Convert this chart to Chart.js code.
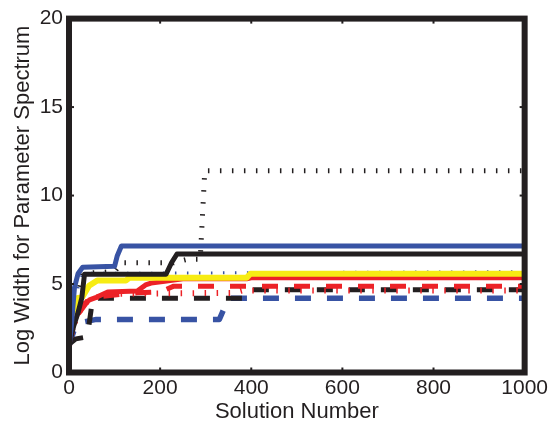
<!DOCTYPE html>
<html>
<head>
<meta charset="utf-8">
<script src="https://cdn.jsdelivr.net/npm/chart.js@4/dist/chart.umd.min.js"></script>
<style>
html,body{margin:0;padding:0;background:#fff;}
#wrap{width:551px;height:425px;}
</style>
</head>
<body>
<div id="wrap"><canvas id="c" width="551" height="425"></canvas></div>
<script>
// Axis ticks
const xTicks = [0, 200, 400, 600, 800, 1000];
const yTicks = [0, 5, 10, 15, 20];

// Series: solid
const blueSolidX  = [0, 5, 12, 20, 30, 100, 106, 115, 1000];
const blueSolidY  = [1.4, 2.6, 4.8, 5.6, 5.95, 6.0, 6.6, 7.15, 7.15];
const blackSolidX = [0, 10, 20, 28, 34, 213, 225, 237, 1000];
const blackSolidY = [1.5, 2.6, 3.4, 4.2, 5.55, 5.55, 6.2, 6.7, 6.7];
const redSolidX   = [0, 4, 15, 28, 45, 60, 85, 150, 168, 180, 210, 250, 390, 400, 1000];
const redSolidY   = [1.6, 2.2, 3.1, 3.8, 4.1, 4.25, 4.55, 4.6, 4.95, 5.05, 5.15, 5.3, 5.3, 5.35, 5.35];
const yellowX     = [0, 7, 18, 29, 44, 62, 125, 132, 390, 398, 1000];
const yellowY     = [3.1, 3.25, 4.2, 4.25, 4.9, 5.2, 5.2, 5.35, 5.35, 5.58, 5.58];

// Series: dashed
const blueDashX  = [0, 10, 20, 60, 330, 350, 1000];
const blueDashY  = [1.5, 2.3, 2.8, 3.0, 3.0, 4.2, 4.2];
const blackDashX = [0, 15, 38, 44, 52, 385, 395, 1000];
const blackDashY = [1.6, 1.9, 2.0, 2.7, 4.2, 4.2, 4.68, 4.68];
const redDashX   = [0, 10, 20, 40, 70, 150, 200, 230, 1000];
const redDashY   = [1.6, 2.6, 3.3, 4.0, 4.3, 4.5, 4.55, 4.88, 4.88];

// Series: dotted
const blueDotX  = [0, 10, 20, 30, 1000];
const blueDotY  = [1.4, 3.0, 4.8, 5.6, 5.7];
const blackDotX = [0, 10, 20, 30, 100, 115, 230, 260, 288, 298, 1000];
const blackDotY = [1.5, 3.0, 4.5, 5.6, 5.7, 6.2, 6.2, 6.4, 6.4, 11.4, 11.4];
const redDotX   = [0, 8, 18, 30, 50, 100, 360, 380, 1000];
const redDotY   = [1.5, 2.5, 3.2, 3.8, 4.2, 4.45, 4.5, 4.64, 4.64];

const BLUE = '#3853a4', BLACK = '#231f20', RED = '#ec2227', YELLOW = '#f7ec13';
const TXT = '#231f20';

function pts(xs, ys){ return xs.map((x,i)=>({x:x, y:ys[i]})); }
function ds(xs, ys, color, width, dash, order){
  return {data: pts(xs, ys), borderColor: color, borderWidth: width, borderDash: dash,
    borderCapStyle: 'butt', borderJoinStyle: 'round', pointRadius: 0, fill: false,
    tension: 0, order: order};
}

const DASH = [16, 16];
const DOT = [1.5, 10.5];

const datasets = [
  ds(blueSolidX, blueSolidY, BLUE, 5, [], 1),
  ds(blackSolidX, blackSolidY, BLACK, 5, [], 2),
  ds(yellowX, yellowY, YELLOW, 6, [], 3),
  ds(redSolidX, redSolidY, RED, 5, [], 4),
  ds(redDotX, redDotY, RED, 6, DOT, 5),
  ds(blueDotX, blueDotY, BLUE, 3, DOT, 6),
  ds(blackDotX, blackDotY, BLACK, 5, DOT, 7),
  ds(redDashX, redDashY, RED, 5, DASH, 8),
  ds(blackDashX, blackDashY, BLACK, 5, DASH, 9),
  ds(blueDashX, blueDashY, BLUE, 5.5, DASH, 10)
];

const framePlugin = {
  id: 'frame',
  afterDraw(chart){
    const {ctx, chartArea: a, scales} = chart;
    ctx.save();
    ctx.strokeStyle = BLACK;
    ctx.lineWidth = 2;
    // small inward tick marks
    const tl = 5;
    xTicks.forEach(v => {
      const px = scales.x.getPixelForValue(v);
      ctx.beginPath(); ctx.moveTo(px, a.bottom); ctx.lineTo(px, a.bottom - tl); ctx.stroke();
      ctx.beginPath(); ctx.moveTo(px, a.top); ctx.lineTo(px, a.top + tl); ctx.stroke();
    });
    yTicks.forEach(v => {
      const py = scales.y.getPixelForValue(v);
      ctx.beginPath(); ctx.moveTo(a.left, py); ctx.lineTo(a.left + tl, py); ctx.stroke();
      ctx.beginPath(); ctx.moveTo(a.right, py); ctx.lineTo(a.right - tl, py); ctx.stroke();
    });
    ctx.lineWidth = 6;
    ctx.lineJoin = 'miter';
    ctx.strokeRect(a.left, a.top, a.right - a.left, a.bottom - a.top);
    ctx.restore();
  }
};

const FAM = '"Liberation Sans", Arial, Helvetica, sans-serif';
const tickFont = {family: FAM, size: 21};
const titleFont = {family: FAM, size: 22};

new Chart(document.getElementById('c'), {
  type: 'line',
  data: {datasets: datasets},
  options: {
    responsive: false,
    animation: false,
    events: [],
    layout: {padding: {left: 0, right: 25, top: 17.5, bottom: 0}},
    plugins: {legend: {display: false}, tooltip: {enabled: false}},
    scales: {
      x: {
        type: 'linear', min: 0, max: 1000,
        afterBuildTicks(s){ s.ticks = xTicks.map(v => ({value: v})); },
        afterFit(s){ s.height = 52.5; },
        grid: {display: false, drawTicks: false},
        border: {display: false},
        ticks: {color: TXT, font: tickFont, padding: 3, maxRotation: 0, autoSkip: false,
                callback: v => String(v)},
        title: {display: true, text: 'Solution Number', color: TXT, font: titleFont, padding: {top: 0, bottom: 0}}
      },
      y: {
        type: 'linear', min: 0, max: 20,
        afterBuildTicks(s){ s.ticks = yTicks.map(v => ({value: v})); },
        afterFit(s){ s.width = 69; },
        grid: {display: false, drawTicks: false},
        border: {display: false},
        ticks: {color: TXT, font: tickFont, padding: 6, autoSkip: false, callback: v => String(v)},
        title: {display: true, text: 'Log Width for Parameter Spectrum', color: TXT, font: titleFont, padding: {top: 10, bottom: 0}}
      }
    }
  },
  plugins: [framePlugin]
});
</script>
</body>
</html>
